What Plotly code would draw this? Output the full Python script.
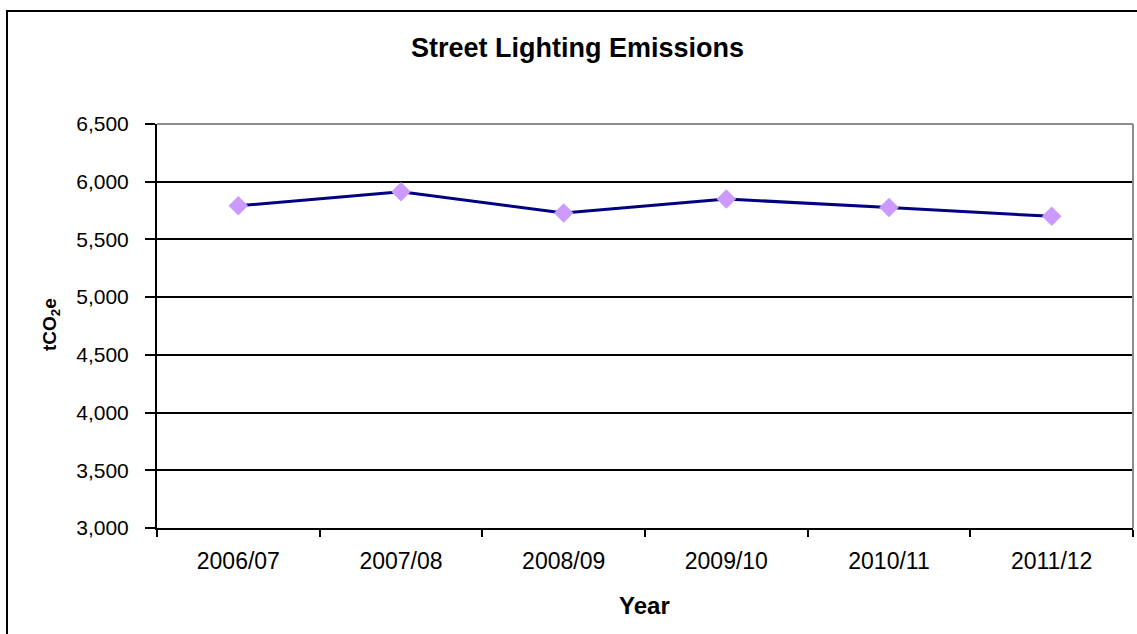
import plotly.graph_objects as go

# Street lighting emissions by financial year (tCO2e)
years = ["2006/07", "2007/08", "2008/09", "2009/10", "2010/11", "2011/12"]
emissions = [5791, 5912, 5729, 5850, 5777, 5700]

y_ticks = [3000, 3500, 4000, 4500, 5000, 5500, 6000, 6500]
y_tick_text = [f"{v:,}" for v in y_ticks]

W, H = 1137, 634
L, R, T, B = 157, 4, 124, 106
pw, ph = W - L - R, H - T - B

def px_x(p):
    return (p - L) / pw

def px_y(p):
    return (H - B - p) / ph

fig = go.Figure()
fig.add_trace(go.Scatter(
    x=years, y=emissions, mode="lines+markers",
    line=dict(color="#000080", width=3),
    marker=dict(symbol="diamond", size=15, color="#CC99FF", line=dict(width=0)),
    cliponaxis=False, showlegend=False,
))

font = "Liberation Sans, Arial, sans-serif"

fig.update_layout(
    width=W, height=H,
    margin=dict(l=L, r=R, t=T, b=B),
    paper_bgcolor="white", plot_bgcolor="white",
    font=dict(family=font, size=21, color="black"),
    xaxis=dict(
        type="category", range=[-0.5, 5.5],
        tickson="boundaries", ticks="outside", ticklen=7, tickwidth=1.5, tickcolor="black",
        showline=True, linecolor="black", linewidth=2,
        showgrid=False, tickfont=dict(size=23), ticklabelstandoff=11,
    ),
    yaxis=dict(
        range=[3000, 6500], tickvals=y_ticks, ticktext=y_tick_text,
        ticks="outside", ticklen=10, tickwidth=1.5, tickcolor="black",
        showline=True, linecolor="black", linewidth=2,
        showgrid=True, gridcolor="black", gridwidth=1.5,
        tickfont=dict(size=21), zeroline=False, ticklabelstandoff=12,
    ),
    annotations=[
        dict(text="<b>Street Lighting Emissions</b>", xref="paper", yref="paper",
             x=px_x(577), y=px_y(48), xanchor="center", yanchor="middle",
             showarrow=False, font=dict(size=27)),
        dict(text="<b>Year</b>", xref="paper", yref="paper",
             x=px_x(644), y=px_y(605), xanchor="center", yanchor="middle",
             showarrow=False, font=dict(size=24)),
        dict(text="<b>tCO<sub>2</sub>e</b>", xref="paper", yref="paper",
             x=px_x(51), y=px_y(325), xanchor="center", yanchor="middle",
             textangle=-90, showarrow=False, font=dict(size=19)),
    ],
    shapes=[
        # grey top and right edges of the plot area
        dict(type="line", xref="paper", yref="paper", x0=0, x1=1, y0=1, y1=1,
             line=dict(color="#8c8c8c", width=2), layer="above"),
        dict(type="line", xref="paper", yref="paper", x0=1, x1=1, y0=0, y1=1,
             line=dict(color="#8c8c8c", width=2), layer="above"),
        # chart frame
        dict(type="rect", xref="paper", yref="paper",
             x0=px_x(7), x1=px_x(1150), y0=px_y(650), y1=px_y(11),
             line=dict(color="black", width=2), fillcolor="rgba(0,0,0,0)", layer="above"),
    ],
)

fig.write_html("out.html")
